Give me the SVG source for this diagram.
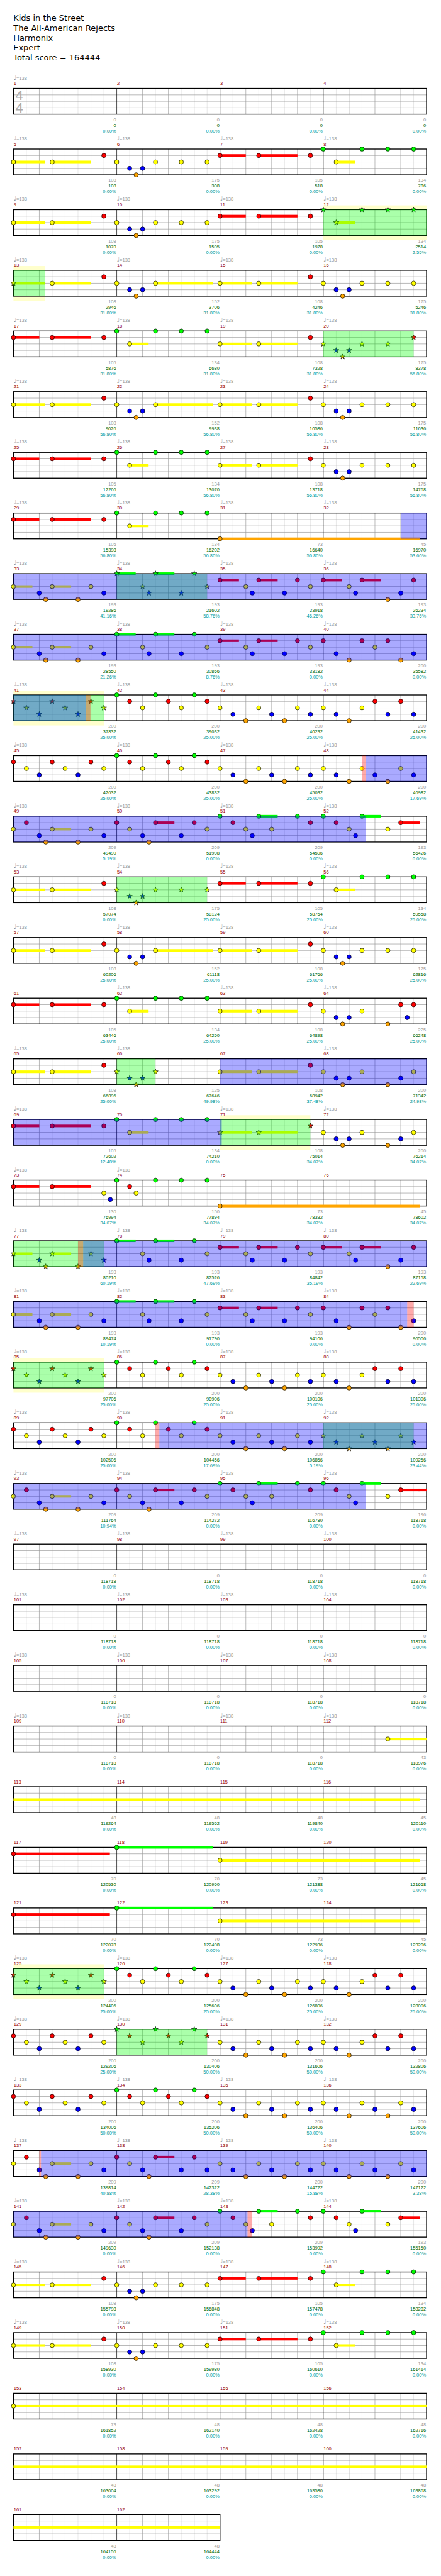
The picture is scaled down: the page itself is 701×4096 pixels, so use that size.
<svg xmlns="http://www.w3.org/2000/svg" xmlns:xlink="http://www.w3.org/1999/xlink" width="701" height="4096" viewBox="0 0 701 4096">
<style>
text{font-family:"Liberation Sans",Arial,sans-serif}
.t{font-family:"DejaVu Sans",sans-serif;font-size:19px;fill:#000}
.mn{font-size:11px;fill:#900}
.tp{font-size:11px;fill:#999}
.qn{font-family:"DejaVu Sans",sans-serif;font-size:14px}
.s1,.s2,.s3{font-size:11px;text-anchor:end}
.s1{fill:#999}.s2{fill:#060}.s3{fill:#099}
.ts{font-size:32px;fill:#aaa}
.l1{stroke:#ddd;fill:none}.l2{stroke:#999;fill:none}.l3{stroke:#000;fill:none}.bd{fill:none;stroke:#000;stroke-width:2}
circle,.st{stroke:#000;stroke-width:1}
.G{fill:#0f0}.R{fill:#f00}.Y{fill:#ff0}.B{fill:#00f}.O{fill:#ffa500}
.bn{fill:#ffc}
.ga{fill:#0f0;fill-opacity:.333}.ra{fill:#f00;fill-opacity:.333}.ba{fill:#00f;fill-opacity:.333}
</style>
<defs>
<g id="g4">
<rect width="960" height="60" fill="#fff"/>
<path class="l1" d="M30 0v60M90 0v60M150 0v60M210 0v60M270 0v60M330 0v60M390 0v60M450 0v60M510 0v60M570 0v60M630 0v60M690 0v60M750 0v60M810 0v60M870 0v60M930 0v60"/>
<path class="l2" d="M0 15h960M0 30h960M0 45h960M60 0v60M120 0v60M180 0v60M300 0v60M360 0v60M420 0v60M540 0v60M600 0v60M660 0v60M780 0v60M840 0v60M900 0v60"/>
<path class="l3" d="M240 0v60M480 0v60M720 0v60"/>
<rect class="bd" width="960" height="60"/>
</g>
<g id="g2">
<rect width="480" height="60" fill="#fff"/>
<path class="l1" d="M30 0v60M90 0v60M150 0v60M210 0v60M270 0v60M330 0v60M390 0v60M450 0v60"/>
<path class="l2" d="M0 15h480M0 30h480M0 45h480M60 0v60M120 0v60M180 0v60M300 0v60M360 0v60M420 0v60"/>
<path class="l3" d="M240 0v60"/>
<rect class="bd" width="480" height="60"/>
</g>
<circle id="G" r="5" class="G"/>
<circle id="R" cy="15" r="5" class="R"/>
<circle id="Y" cy="30" r="5" class="Y"/>
<circle id="B" cy="45" r="5" class="B"/>
<circle id="O" cy="60" r="5" class="O"/>
<path id="s" class="st" d="M0-6.5L1.53-2.1 6.18-2.01 2.47.8 3.82 5.26 0 2.6-3.82 5.26-2.47.8-6.18-2.01-1.53-2.1Z"/>
<use id="g" href="#s" class="G"/>
<use id="r" href="#s" y="15" class="R"/>
<use id="y" href="#s" y="30" class="Y"/>
<use id="b" href="#s" y="45" class="B"/>
<use id="o" href="#s" y="60" class="O"/>
<g id="P1"><rect y="27" width="74" height="6" class="Y"/><rect x="90" y="27" width="90" height="6" class="Y"/><use href="#Y"/><use href="#Y" x="90"/><use href="#R" x="210"/></g>
<g id="P1s"><rect y="27" width="74" height="6" class="Y"/><rect x="90" y="27" width="90" height="6" class="Y"/><use href="#y"/><use href="#y" x="90"/><use href="#r" x="210"/></g>
<g id="P2"><use href="#Y"/><use href="#B" x="30"/><use href="#O" x="45"/><use href="#B" x="60"/><use href="#Y" x="90"/><use href="#Y" x="150"/><use href="#Y" x="210"/></g>
<g id="P2s"><use href="#y"/><use href="#b" x="30"/><use href="#o" x="45"/><use href="#b" x="60"/><use href="#y" x="90"/><use href="#y" x="150"/><use href="#y" x="210"/></g>
<g id="P3"><rect y="12" width="60" height="6" class="R"/><rect x="90" y="12" width="90" height="6" class="R"/><use href="#R"/><use href="#R" x="90"/><use href="#R" x="210"/></g>
<g id="P4"><rect x="30" y="27" width="44" height="6" class="Y"/><use href="#G"/><use href="#Y" x="30"/><use href="#G" x="90"/><use href="#G" x="150"/><use href="#G" x="210"/></g>
<g id="P4s"><rect x="30" y="27" width="44" height="6" class="Y"/><use href="#g"/><use href="#y" x="30"/><use href="#g" x="90"/><use href="#g" x="150"/><use href="#g" x="210"/></g>
<g id="P5"><rect x="90" y="27" width="134" height="6" class="Y"/><use href="#Y"/><use href="#B" x="30"/><use href="#O" x="45"/><use href="#B" x="60"/><use href="#Y" x="90"/></g>
<g id="P7"><use href="#Y"/><use href="#B" x="30"/><use href="#O" x="45"/><use href="#B" x="60"/><use href="#Y" x="90"/><use href="#O" x="150"/><use href="#B" x="180"/><use href="#Y" x="210"/></g>
<g id="Q1"><rect y="27" width="44" height="6" class="Y"/><rect x="90" y="27" width="44" height="6" class="Y"/><use href="#Y"/><use href="#B" x="60"/><use href="#O" x="75"/><use href="#Y" x="90"/><use href="#O" x="150"/><use href="#Y" x="180"/><use href="#B" x="210"/></g>
<g id="Q1s"><rect y="27" width="44" height="6" class="Y"/><rect x="90" y="27" width="44" height="6" class="Y"/><use href="#y"/><use href="#b" x="60"/><use href="#o" x="75"/><use href="#y" x="90"/><use href="#o" x="150"/><use href="#y" x="180"/><use href="#b" x="210"/></g>
<g id="Q2"><rect y="-3" width="44" height="6" class="G"/><rect x="90" y="-3" width="44" height="6" class="G"/><use href="#G"/><use href="#Y" x="60"/><use href="#B" x="75"/><use href="#G" x="90"/><use href="#B" x="150"/><use href="#G" x="180"/><use href="#Y" x="210"/></g>
<g id="Q2s"><rect y="-3" width="44" height="6" class="G"/><rect x="90" y="-3" width="44" height="6" class="G"/><use href="#g"/><use href="#y" x="60"/><use href="#b" x="75"/><use href="#g" x="90"/><use href="#b" x="150"/><use href="#g" x="180"/><use href="#y" x="210"/></g>
<g id="Q3"><rect y="12" width="44" height="6" class="R"/><rect x="90" y="12" width="44" height="6" class="R"/><use href="#R"/><use href="#Y" x="60"/><use href="#B" x="75"/><use href="#R" x="90"/><use href="#B" x="150"/><use href="#R" x="180"/><use href="#Y" x="210"/></g>
<g id="Q4"><rect y="12" width="44" height="6" class="R"/><rect x="90" y="12" width="44" height="6" class="R"/><use href="#R"/><use href="#Y" x="60"/><use href="#B" x="75"/><use href="#R" x="90"/><use href="#O" x="150"/><use href="#B" x="180"/><use href="#R" x="210"/></g>
<g id="Q5"><use href="#R"/><use href="#B" x="30"/><use href="#O" x="60"/><use href="#R" x="90"/><use href="#Y" x="120"/><use href="#R" x="150"/><use href="#O" x="180"/><use href="#B" x="210"/></g>
<g id="S1"><use href="#R"/><use href="#Y" x="30"/><use href="#B" x="60"/><use href="#R" x="90"/><use href="#Y" x="120"/><use href="#B" x="150"/><use href="#R" x="180"/><use href="#Y" x="210"/></g>
<g id="S1s"><use href="#r"/><use href="#y" x="30"/><use href="#b" x="60"/><use href="#r" x="90"/><use href="#y" x="120"/><use href="#b" x="150"/><use href="#r" x="180"/><use href="#y" x="210"/></g>
<g id="S2"><use href="#G"/><use href="#R" x="30"/><use href="#Y" x="60"/><use href="#G" x="90"/><use href="#R" x="120"/><use href="#Y" x="150"/><use href="#G" x="180"/><use href="#R" x="210"/></g>
<g id="S2s"><use href="#g"/><use href="#r" x="30"/><use href="#y" x="60"/><use href="#g" x="90"/><use href="#r" x="120"/><use href="#y" x="150"/><use href="#g" x="180"/><use href="#r" x="210"/></g>
<g id="S3"><use href="#Y"/><use href="#B" x="30"/><use href="#O" x="60"/><use href="#Y" x="90"/><use href="#B" x="120"/><use href="#O" x="150"/><use href="#Y" x="180"/><use href="#B" x="210"/></g>
<g id="S3s"><use href="#y"/><use href="#b" x="30"/><use href="#o" x="60"/><use href="#y" x="90"/><use href="#b" x="120"/><use href="#o" x="150"/><use href="#y" x="180"/><use href="#b" x="210"/></g>
<g id="S4"><use href="#Y"/><use href="#B" x="30"/><use href="#O" x="60"/><use href="#Y" x="90"/><use href="#R" x="120"/><use href="#B" x="150"/><use href="#R" x="180"/><use href="#B" x="210"/></g>
<g id="T1"><rect x="90" y="27" width="44" height="6" class="Y"/><use href="#Y"/><use href="#R" x="30"/><use href="#B" x="60"/><use href="#O" x="75"/><use href="#Y" x="90"/><use href="#O" x="150"/><use href="#Y" x="180"/><use href="#B" x="210"/></g>
<g id="T2"><rect x="90" y="12" width="44" height="6" class="R"/><use href="#R"/><use href="#Y" x="30"/><use href="#B" x="60"/><use href="#O" x="75"/><use href="#R" x="90"/><use href="#B" x="150"/><use href="#R" x="180"/><use href="#Y" x="210"/></g>
<g id="T3"><rect x="90" y="-3" width="44" height="6" class="G"/><use href="#G"/><use href="#R" x="30"/><use href="#Y" x="60"/><use href="#B" x="75"/><use href="#G" x="90"/><use href="#Y" x="120"/><use href="#G" x="180"/><use href="#R" x="210"/></g>
<g id="T4"><rect x="90" y="-3" width="44" height="6" class="G"/><rect x="180" y="12" width="44" height="6" class="R"/><use href="#G"/><use href="#R" x="30"/><use href="#Y" x="60"/><use href="#B" x="75"/><use href="#G" x="90"/><use href="#Y" x="150"/><use href="#R" x="180"/></g>
</defs>
<rect width="701" height="4096" fill="#fff"/>
<g transform="scale(0.684)">
<g id="title">
<text class="t" x="31" y="48.5">Kids in the Street</text>
<text class="t" x="31" y="71.5">The All-American Rejects</text>
<text class="t" x="31" y="94.5">Harmonix</text>
<text class="t" x="31" y="117.5">Expert</text>
<text class="t" x="31" y="140.5">Total score = 164444</text>
</g>

<g id="row0" transform="translate(31.3 205.5)">
<use href="#g4"/>
<text class="ts" x="4.5" y="27.5">4</text><text class="ts" x="4.5" y="56.5">4</text>
<text class="mn" y="-8"><tspan x="0.5">1</tspan><tspan x="240.5">2</tspan><tspan x="480.5">3</tspan><tspan x="720.5">4</tspan></text>
<text class="tp" y="-20.5"><tspan x="0" class="qn">♩</tspan>=138</text>
<text class="s1" y="76.5"><tspan x="238.7">0</tspan><tspan x="478.7">0</tspan><tspan x="718.7">0</tspan><tspan x="958.7">0</tspan></text>
<text class="s2" y="89.7"><tspan x="238.7">0</tspan><tspan x="478.7">0</tspan><tspan x="718.7">0</tspan><tspan x="958.7">0</tspan></text>
<text class="s3" y="102.8"><tspan x="238.7">0.00%</tspan><tspan x="478.7">0.00%</tspan><tspan x="718.7">0.00%</tspan><tspan x="958.7">0.00%</tspan></text>
</g>

<g id="row1" transform="translate(31.3 346.5)">
<use href="#g4"/>
<use href="#P1"/><use href="#P2" x="240"/><use href="#P3" x="480"/><use href="#P4" x="720"/>
<text class="mn" y="-8"><tspan x="0.5">5</tspan><tspan x="240.5">6</tspan><tspan x="480.5">7</tspan><tspan x="720.5">8</tspan></text>
<text class="tp" y="-20.5"><tspan x="0" class="qn">♩</tspan>=138<tspan x="240" class="qn">♩</tspan>=138<tspan x="480" class="qn">♩</tspan>=138<tspan x="720" class="qn">♩</tspan>=138</text>
<text class="s1" y="76.5"><tspan x="238.7">108</tspan><tspan x="478.7">175</tspan><tspan x="718.7">105</tspan><tspan x="958.7">134</tspan></text>
<text class="s2" y="89.7"><tspan x="238.7">108</tspan><tspan x="478.7">308</tspan><tspan x="718.7">518</tspan><tspan x="958.7">786</tspan></text>
<text class="s3" y="102.8"><tspan x="238.7">0.00%</tspan><tspan x="478.7">0.00%</tspan><tspan x="718.7">0.00%</tspan><tspan x="958.7">0.00%</tspan></text>
</g>

<g id="row2" transform="translate(31.3 487.5)">
<rect class="bn" x="720" y="-10" width="240" height="81"/>
<use href="#g4"/>
<use href="#P1"/><use href="#P2" x="240"/><use href="#P3" x="480"/><use href="#P4s" x="720"/>
<rect class="ga" x="720" width="240" height="60"/>
<text class="mn" y="-8"><tspan x="0.5">9</tspan><tspan x="240.5">10</tspan><tspan x="480.5">11</tspan><tspan x="720.5">12</tspan></text>
<text class="tp" y="-20.5"><tspan x="0" class="qn">♩</tspan>=138<tspan x="240" class="qn">♩</tspan>=138<tspan x="480" class="qn">♩</tspan>=138<tspan x="720" class="qn">♩</tspan>=138</text>
<text class="s1" y="76.5"><tspan x="238.7">108</tspan><tspan x="478.7">175</tspan><tspan x="718.7">105</tspan><tspan x="958.7">134</tspan></text>
<text class="s2" y="89.7"><tspan x="238.7">1070</tspan><tspan x="478.7">1595</tspan><tspan x="718.7">1978</tspan><tspan x="958.7">2514</tspan></text>
<text class="s3" y="102.8"><tspan x="238.7">0.00%</tspan><tspan x="478.7">0.00%</tspan><tspan x="718.7">0.00%</tspan><tspan x="958.7">2.55%</tspan></text>
</g>

<g id="row3" transform="translate(31.3 628.5)">
<rect class="bn" x="0" y="-10" width="74" height="81"/>
<use href="#g4"/>
<rect y="27" width="74" height="6" class="Y"/><rect x="90" y="27" width="90" height="6" class="Y"/><use href="#y"/><use href="#Y" x="90"/><use href="#R" x="210"/>
<use href="#P5" x="240"/><use href="#P1" x="480"/><use href="#P2" x="720"/>
<rect class="ga" width="74" height="60"/>
<text class="mn" y="-8"><tspan x="0.5">13</tspan><tspan x="240.5">14</tspan><tspan x="480.5">15</tspan><tspan x="720.5">16</tspan></text>
<text class="tp" y="-20.5"><tspan x="0" class="qn">♩</tspan>=138<tspan x="240" class="qn">♩</tspan>=138<tspan x="480" class="qn">♩</tspan>=138<tspan x="720" class="qn">♩</tspan>=138</text>
<text class="s1" y="76.5"><tspan x="238.7">108</tspan><tspan x="478.7">152</tspan><tspan x="718.7">108</tspan><tspan x="958.7">175</tspan></text>
<text class="s2" y="89.7"><tspan x="238.7">2946</tspan><tspan x="478.7">3706</tspan><tspan x="718.7">4246</tspan><tspan x="958.7">5246</tspan></text>
<text class="s3" y="102.8"><tspan x="238.7">31.80%</tspan><tspan x="478.7">31.80%</tspan><tspan x="718.7">31.80%</tspan><tspan x="958.7">31.80%</tspan></text>
</g>

<g id="row4" transform="translate(31.3 769.5)">
<use href="#g4"/>
<use href="#P3"/><use href="#P4" x="240"/><use href="#P1" x="480"/>
<use href="#y" x="720"/><use href="#b" x="750"/><use href="#o" x="765"/><use href="#b" x="780"/><use href="#y" x="810"/><use href="#y" x="870"/><use href="#r" x="930"/>
<rect class="ga" x="720" width="210" height="60"/>
<text class="mn" y="-8"><tspan x="0.5">17</tspan><tspan x="240.5">18</tspan><tspan x="480.5">19</tspan><tspan x="720.5">20</tspan></text>
<text class="tp" y="-20.5"><tspan x="0" class="qn">♩</tspan>=138<tspan x="240" class="qn">♩</tspan>=138<tspan x="480" class="qn">♩</tspan>=138<tspan x="720" class="qn">♩</tspan>=138</text>
<text class="s1" y="76.5"><tspan x="238.7">105</tspan><tspan x="478.7">134</tspan><tspan x="718.7">108</tspan><tspan x="958.7">175</tspan></text>
<text class="s2" y="89.7"><tspan x="238.7">5876</tspan><tspan x="478.7">6680</tspan><tspan x="718.7">7328</tspan><tspan x="958.7">8378</tspan></text>
<text class="s3" y="102.8"><tspan x="238.7">31.80%</tspan><tspan x="478.7">31.80%</tspan><tspan x="718.7">31.80%</tspan><tspan x="958.7">56.80%</tspan></text>
</g>

<g id="row5" transform="translate(31.3 910.5)">
<use href="#g4"/>
<use href="#P1"/><use href="#P5" x="240"/><use href="#P1" x="480"/><use href="#P2" x="720"/>
<text class="mn" y="-8"><tspan x="0.5">21</tspan><tspan x="240.5">22</tspan><tspan x="480.5">23</tspan><tspan x="720.5">24</tspan></text>
<text class="tp" y="-20.5"><tspan x="0" class="qn">♩</tspan>=138<tspan x="240" class="qn">♩</tspan>=138<tspan x="480" class="qn">♩</tspan>=138<tspan x="720" class="qn">♩</tspan>=138</text>
<text class="s1" y="76.5"><tspan x="238.7">108</tspan><tspan x="478.7">152</tspan><tspan x="718.7">108</tspan><tspan x="958.7">175</tspan></text>
<text class="s2" y="89.7"><tspan x="238.7">9026</tspan><tspan x="478.7">9938</tspan><tspan x="718.7">10586</tspan><tspan x="958.7">11636</tspan></text>
<text class="s3" y="102.8"><tspan x="238.7">56.80%</tspan><tspan x="478.7">56.80%</tspan><tspan x="718.7">56.80%</tspan><tspan x="958.7">56.80%</tspan></text>
</g>

<g id="row6" transform="translate(31.3 1051.5)">
<use href="#g4"/>
<use href="#P3"/><use href="#P4" x="240"/><use href="#P1" x="480"/><use href="#P2" x="720"/>
<text class="mn" y="-8"><tspan x="0.5">25</tspan><tspan x="240.5">26</tspan><tspan x="480.5">27</tspan><tspan x="720.5">28</tspan></text>
<text class="tp" y="-20.5"><tspan x="0" class="qn">♩</tspan>=138<tspan x="240" class="qn">♩</tspan>=138<tspan x="480" class="qn">♩</tspan>=138<tspan x="720" class="qn">♩</tspan>=138</text>
<text class="s1" y="76.5"><tspan x="238.7">105</tspan><tspan x="478.7">134</tspan><tspan x="718.7">108</tspan><tspan x="958.7">175</tspan></text>
<text class="s2" y="89.7"><tspan x="238.7">12266</tspan><tspan x="478.7">13070</tspan><tspan x="718.7">13718</tspan><tspan x="958.7">14768</tspan></text>
<text class="s3" y="102.8"><tspan x="238.7">56.80%</tspan><tspan x="478.7">56.80%</tspan><tspan x="718.7">56.80%</tspan><tspan x="958.7">56.80%</tspan></text>
</g>

<g id="row7" transform="translate(31.3 1192.5)">
<use href="#g4"/>
<use href="#P3"/><use href="#P4" x="240"/>
<rect x="480" y="57" width="464" height="6" class="O"/><use href="#O" x="480"/>
<rect class="ba" x="900" width="60" height="60"/>
<text class="mn" y="-8"><tspan x="0.5">29</tspan><tspan x="240.5">30</tspan><tspan x="480.5">31</tspan><tspan x="720.5">32</tspan></text>
<text class="tp" y="-20.5"><tspan x="0" class="qn">♩</tspan>=138<tspan x="240" class="qn">♩</tspan>=138<tspan x="480" class="qn">♩</tspan>=138<tspan x="720" class="qn">♩</tspan>=138</text>
<text class="s1" y="76.5"><tspan x="238.7">105</tspan><tspan x="478.7">134</tspan><tspan x="718.7">73</tspan><tspan x="958.7">45</tspan></text>
<text class="s2" y="89.7"><tspan x="238.7">15398</tspan><tspan x="478.7">16202</tspan><tspan x="718.7">16640</tspan><tspan x="958.7">16970</tspan></text>
<text class="s3" y="102.8"><tspan x="238.7">56.80%</tspan><tspan x="478.7">56.80%</tspan><tspan x="718.7">56.80%</tspan><tspan x="958.7">53.66%</tspan></text>
</g>

<g id="row8" transform="translate(31.3 1333.5)">
<use href="#g4"/>
<use href="#Q1"/><use href="#Q2s" x="240"/><use href="#Q3" x="480"/><use href="#Q4" x="720"/>
<rect class="ga" x="240" width="210" height="60"/><rect class="ba" width="960" height="60"/>
<text class="mn" y="-8"><tspan x="0.5">33</tspan><tspan x="240.5">34</tspan><tspan x="480.5">35</tspan><tspan x="720.5">36</tspan></text>
<text class="tp" y="-20.5"><tspan x="0" class="qn">♩</tspan>=138<tspan x="240" class="qn">♩</tspan>=138<tspan x="480" class="qn">♩</tspan>=138<tspan x="720" class="qn">♩</tspan>=138</text>
<text class="s1" y="76.5"><tspan x="238.7">193</tspan><tspan x="478.7">193</tspan><tspan x="718.7">193</tspan><tspan x="958.7">193</tspan></text>
<text class="s2" y="89.7"><tspan x="238.7">19286</tspan><tspan x="478.7">21602</tspan><tspan x="718.7">23918</tspan><tspan x="958.7">26234</tspan></text>
<text class="s3" y="102.8"><tspan x="238.7">41.16%</tspan><tspan x="478.7">58.76%</tspan><tspan x="718.7">46.26%</tspan><tspan x="958.7">33.76%</tspan></text>
</g>

<g id="row9" transform="translate(31.3 1474.5)">
<use href="#g4"/>
<use href="#Q1"/><use href="#Q2" x="240"/><use href="#Q3" x="480"/><use href="#Q5" x="720"/>
<rect class="ba" width="960" height="60"/>
<text class="mn" y="-8"><tspan x="0.5">37</tspan><tspan x="240.5">38</tspan><tspan x="480.5">39</tspan><tspan x="720.5">40</tspan></text>
<text class="tp" y="-20.5"><tspan x="0" class="qn">♩</tspan>=138<tspan x="240" class="qn">♩</tspan>=138<tspan x="480" class="qn">♩</tspan>=138<tspan x="720" class="qn">♩</tspan>=138</text>
<text class="s1" y="76.5"><tspan x="238.7">193</tspan><tspan x="478.7">193</tspan><tspan x="718.7">193</tspan><tspan x="958.7">200</tspan></text>
<text class="s2" y="89.7"><tspan x="238.7">28550</tspan><tspan x="478.7">30866</tspan><tspan x="718.7">33182</tspan><tspan x="958.7">35582</tspan></text>
<text class="s3" y="102.8"><tspan x="238.7">21.26%</tspan><tspan x="478.7">8.76%</tspan><tspan x="718.7">0.00%</tspan><tspan x="958.7">0.00%</tspan></text>
</g>

<g id="row10" transform="translate(31.3 1615.5)">
<rect class="bn" x="0" y="-10" width="210" height="81"/>
<use href="#g4"/>
<use href="#S1s"/><use href="#S2" x="240"/><use href="#S3" x="480"/><use href="#S4" x="720"/>
<rect class="ga" width="210" height="60"/><rect class="ra" x="168" width="11" height="60"/><rect class="ba" width="168" height="60"/>
<text class="mn" y="-8"><tspan x="0.5">41</tspan><tspan x="240.5">42</tspan><tspan x="480.5">43</tspan><tspan x="720.5">44</tspan></text>
<text class="tp" y="-20.5"><tspan x="0" class="qn">♩</tspan>=138<tspan x="240" class="qn">♩</tspan>=138<tspan x="480" class="qn">♩</tspan>=138<tspan x="720" class="qn">♩</tspan>=138</text>
<text class="s1" y="76.5"><tspan x="238.7">200</tspan><tspan x="478.7">200</tspan><tspan x="718.7">200</tspan><tspan x="958.7">200</tspan></text>
<text class="s2" y="89.7"><tspan x="238.7">37832</tspan><tspan x="478.7">39032</tspan><tspan x="718.7">40232</tspan><tspan x="958.7">41432</tspan></text>
<text class="s3" y="102.8"><tspan x="238.7">25.00%</tspan><tspan x="478.7">25.00%</tspan><tspan x="718.7">25.00%</tspan><tspan x="958.7">25.00%</tspan></text>
</g>

<g id="row11" transform="translate(31.3 1756.5)">
<use href="#g4"/>
<use href="#S1"/><use href="#S2" x="240"/><use href="#S3" x="480"/><use href="#S3" x="720"/>
<rect class="ra" x="810" width="9" height="60"/><rect class="ba" x="819" width="141" height="60"/>
<text class="mn" y="-8"><tspan x="0.5">45</tspan><tspan x="240.5">46</tspan><tspan x="480.5">47</tspan><tspan x="720.5">48</tspan></text>
<text class="tp" y="-20.5"><tspan x="0" class="qn">♩</tspan>=138<tspan x="240" class="qn">♩</tspan>=138<tspan x="480" class="qn">♩</tspan>=138<tspan x="720" class="qn">♩</tspan>=138</text>
<text class="s1" y="76.5"><tspan x="238.7">200</tspan><tspan x="478.7">200</tspan><tspan x="718.7">200</tspan><tspan x="958.7">200</tspan></text>
<text class="s2" y="89.7"><tspan x="238.7">42632</tspan><tspan x="478.7">43832</tspan><tspan x="718.7">45032</tspan><tspan x="958.7">46982</tspan></text>
<text class="s3" y="102.8"><tspan x="238.7">25.00%</tspan><tspan x="478.7">25.00%</tspan><tspan x="718.7">25.00%</tspan><tspan x="958.7">17.69%</tspan></text>
</g>

<g id="row12" transform="translate(31.3 1897.5)">
<use href="#g4"/>
<use href="#T1"/><use href="#T2" x="240"/><use href="#T3" x="480"/><use href="#T4" x="720"/>
<rect class="ba" width="819" height="60"/>
<text class="mn" y="-8"><tspan x="0.5">49</tspan><tspan x="240.5">50</tspan><tspan x="480.5">51</tspan><tspan x="720.5">52</tspan></text>
<text class="tp" y="-20.5"><tspan x="0" class="qn">♩</tspan>=138<tspan x="240" class="qn">♩</tspan>=138<tspan x="480" class="qn">♩</tspan>=138<tspan x="720" class="qn">♩</tspan>=138</text>
<text class="s1" y="76.5"><tspan x="238.7">209</tspan><tspan x="478.7">209</tspan><tspan x="718.7">209</tspan><tspan x="958.7">193</tspan></text>
<text class="s2" y="89.7"><tspan x="238.7">49490</tspan><tspan x="478.7">51998</tspan><tspan x="718.7">54506</tspan><tspan x="958.7">56426</tspan></text>
<text class="s3" y="102.8"><tspan x="238.7">5.19%</tspan><tspan x="478.7">0.00%</tspan><tspan x="718.7">0.00%</tspan><tspan x="958.7">0.00%</tspan></text>
</g>

<g id="row13" transform="translate(31.3 2038.5)">
<use href="#g4"/>
<use href="#P1"/><use href="#P2s" x="240"/><use href="#P3" x="480"/><use href="#P4" x="720"/>
<rect class="ga" x="240" width="210" height="60"/>
<text class="mn" y="-8"><tspan x="0.5">53</tspan><tspan x="240.5">54</tspan><tspan x="480.5">55</tspan><tspan x="720.5">56</tspan></text>
<text class="tp" y="-20.5"><tspan x="0" class="qn">♩</tspan>=138<tspan x="240" class="qn">♩</tspan>=138<tspan x="480" class="qn">♩</tspan>=138<tspan x="720" class="qn">♩</tspan>=138</text>
<text class="s1" y="76.5"><tspan x="238.7">108</tspan><tspan x="478.7">175</tspan><tspan x="718.7">105</tspan><tspan x="958.7">134</tspan></text>
<text class="s2" y="89.7"><tspan x="238.7">57074</tspan><tspan x="478.7">58124</tspan><tspan x="718.7">58754</tspan><tspan x="958.7">59558</tspan></text>
<text class="s3" y="102.8"><tspan x="238.7">0.00%</tspan><tspan x="478.7">25.00%</tspan><tspan x="718.7">25.00%</tspan><tspan x="958.7">25.00%</tspan></text>
</g>

<g id="row14" transform="translate(31.3 2179.5)">
<use href="#g4"/>
<use href="#P1"/><use href="#P5" x="240"/><use href="#P1" x="480"/><use href="#P2" x="720"/>
<text class="mn" y="-8"><tspan x="0.5">57</tspan><tspan x="240.5">58</tspan><tspan x="480.5">59</tspan><tspan x="720.5">60</tspan></text>
<text class="tp" y="-20.5"><tspan x="0" class="qn">♩</tspan>=138<tspan x="240" class="qn">♩</tspan>=138<tspan x="480" class="qn">♩</tspan>=138<tspan x="720" class="qn">♩</tspan>=138</text>
<text class="s1" y="76.5"><tspan x="238.7">108</tspan><tspan x="478.7">152</tspan><tspan x="718.7">108</tspan><tspan x="958.7">175</tspan></text>
<text class="s2" y="89.7"><tspan x="238.7">60206</tspan><tspan x="478.7">61118</tspan><tspan x="718.7">61766</tspan><tspan x="958.7">62816</tspan></text>
<text class="s3" y="102.8"><tspan x="238.7">25.00%</tspan><tspan x="478.7">25.00%</tspan><tspan x="718.7">25.00%</tspan><tspan x="958.7">25.00%</tspan></text>
</g>

<g id="row15" transform="translate(31.3 2320.5)">
<use href="#g4"/>
<use href="#P3"/><use href="#P4" x="240"/><use href="#P1" x="480"/>
<use href="#Y" x="720"/><use href="#B" x="750"/><use href="#O" x="765"/><use href="#B" x="780"/><use href="#Y" x="810"/><use href="#O" x="870"/><use href="#R" x="900"/><use href="#B" x="915"/><use href="#R" x="930"/>
<text class="mn" y="-8"><tspan x="0.5">61</tspan><tspan x="240.5">62</tspan><tspan x="480.5">63</tspan><tspan x="720.5">64</tspan></text>
<text class="tp" y="-20.5"><tspan x="240" class="qn">♩</tspan>=138<tspan x="480" class="qn">♩</tspan>=138<tspan x="720" class="qn">♩</tspan>=138</text>
<text class="s1" y="76.5"><tspan x="238.7">105</tspan><tspan x="478.7">134</tspan><tspan x="718.7">108</tspan><tspan x="958.7">225</tspan></text>
<text class="s2" y="89.7"><tspan x="238.7">63446</tspan><tspan x="478.7">64250</tspan><tspan x="718.7">64898</tspan><tspan x="958.7">66248</tspan></text>
<text class="s3" y="102.8"><tspan x="238.7">25.00%</tspan><tspan x="478.7">25.00%</tspan><tspan x="718.7">25.00%</tspan><tspan x="958.7">25.00%</tspan></text>
</g>

<g id="row16" transform="translate(31.3 2461.5)">
<use href="#g4"/>
<use href="#P1"/>
<use href="#y" x="240"/><use href="#b" x="270"/><use href="#o" x="285"/><use href="#b" x="300"/><use href="#y" x="330"/>
<use href="#P1" x="480"/><use href="#P7" x="720"/>
<rect class="ga" x="240" width="90" height="60"/><rect class="ba" x="480" width="480" height="60"/>
<text class="mn" y="-8"><tspan x="0.5">65</tspan><tspan x="240.5">66</tspan><tspan x="480.5">67</tspan><tspan x="720.5">68</tspan></text>
<text class="tp" y="-20.5"><tspan x="0" class="qn">♩</tspan>=138<tspan x="240" class="qn">♩</tspan>=138<tspan x="720" class="qn">♩</tspan>=138</text>
<text class="s1" y="76.5"><tspan x="238.7">108</tspan><tspan x="478.7">125</tspan><tspan x="718.7">108</tspan><tspan x="958.7">200</tspan></text>
<text class="s2" y="89.7"><tspan x="238.7">66896</tspan><tspan x="478.7">67646</tspan><tspan x="718.7">68942</tspan><tspan x="958.7">71342</tspan></text>
<text class="s3" y="102.8"><tspan x="238.7">25.00%</tspan><tspan x="478.7">49.98%</tspan><tspan x="718.7">37.48%</tspan><tspan x="958.7">24.98%</tspan></text>
</g>

<g id="row17" transform="translate(31.3 2602.5)">
<rect class="bn" x="480" y="-10" width="210" height="81"/>
<use href="#g4"/>
<use href="#P3"/><use href="#P4" x="240"/><use href="#P1s" x="480"/><use href="#P7" x="720"/>
<rect class="ga" x="480" width="210" height="60"/><rect class="ba" width="484" height="60"/>
<text class="mn" y="-8"><tspan x="0.5">69</tspan><tspan x="240.5">70</tspan><tspan x="480.5">71</tspan><tspan x="720.5">72</tspan></text>
<text class="tp" y="-20.5"><tspan x="0" class="qn">♩</tspan>=138<tspan x="480" class="qn">♩</tspan>=138<tspan x="720" class="qn">♩</tspan>=138</text>
<text class="s1" y="76.5"><tspan x="238.7">105</tspan><tspan x="478.7">134</tspan><tspan x="718.7">108</tspan><tspan x="958.7">200</tspan></text>
<text class="s2" y="89.7"><tspan x="238.7">72602</tspan><tspan x="478.7">74210</tspan><tspan x="718.7">75014</tspan><tspan x="958.7">76214</tspan></text>
<text class="s3" y="102.8"><tspan x="238.7">12.48%</tspan><tspan x="478.7">0.00%</tspan><tspan x="718.7">34.07%</tspan><tspan x="958.7">34.07%</tspan></text>
</g>

<g id="row18" transform="translate(31.3 2743.5)">
<use href="#g4"/>
<rect y="12" width="60" height="6" class="R"/><rect x="90" y="12" width="90" height="6" class="R"/><use href="#R"/><use href="#R" x="90"/><use href="#Y" x="210"/><use href="#B" x="225"/>
<use href="#G" x="240"/><use href="#R" x="270"/><use href="#Y" x="285"/><use href="#G" x="330"/><use href="#G" x="390"/><use href="#G" x="450"/>
<rect x="480" y="57" width="464" height="6" class="O"/><use href="#O" x="480"/>
<text class="mn" y="-8"><tspan x="0.5">73</tspan><tspan x="240.5">74</tspan><tspan x="480.5">75</tspan><tspan x="720.5">76</tspan></text>
<text class="tp" y="-20.5"><tspan x="0" class="qn">♩</tspan>=138<tspan x="240" class="qn">♩</tspan>=138</text>
<text class="s1" y="76.5"><tspan x="238.7">130</tspan><tspan x="478.7">150</tspan><tspan x="718.7">73</tspan><tspan x="958.7">45</tspan></text>
<text class="s2" y="89.7"><tspan x="238.7">76994</tspan><tspan x="478.7">77894</tspan><tspan x="718.7">78332</tspan><tspan x="958.7">78602</tspan></text>
<text class="s3" y="102.8"><tspan x="238.7">34.07%</tspan><tspan x="478.7">34.07%</tspan><tspan x="718.7">34.07%</tspan><tspan x="958.7">34.07%</tspan></text>
</g>

<g id="row19" transform="translate(31.3 2884.5)">
<use href="#g4"/>
<use href="#Q1s"/><use href="#Q2" x="240"/><use href="#Q3" x="480"/><use href="#Q4" x="720"/>
<rect class="ga" width="210" height="60"/><rect class="ra" x="150" width="12" height="60"/><rect class="ba" x="162" width="798" height="60"/>
<text class="mn" y="-8"><tspan x="0.5">77</tspan><tspan x="240.5">78</tspan><tspan x="480.5">79</tspan><tspan x="720.5">80</tspan></text>
<text class="tp" y="-20.5"><tspan x="0" class="qn">♩</tspan>=138<tspan x="240" class="qn">♩</tspan>=138<tspan x="480" class="qn">♩</tspan>=138<tspan x="720" class="qn">♩</tspan>=138</text>
<text class="s1" y="76.5"><tspan x="238.7">193</tspan><tspan x="478.7">193</tspan><tspan x="718.7">193</tspan><tspan x="958.7">193</tspan></text>
<text class="s2" y="89.7"><tspan x="238.7">80210</tspan><tspan x="478.7">82526</tspan><tspan x="718.7">84842</tspan><tspan x="958.7">87158</tspan></text>
<text class="s3" y="102.8"><tspan x="238.7">60.19%</tspan><tspan x="478.7">47.69%</tspan><tspan x="718.7">35.19%</tspan><tspan x="958.7">22.69%</tspan></text>
</g>

<g id="row20" transform="translate(31.3 3025.5)">
<use href="#g4"/>
<use href="#Q1"/><use href="#Q2" x="240"/><use href="#Q3" x="480"/><use href="#Q5" x="720"/>
<rect class="ba" width="915" height="60"/><rect class="ra" x="915" width="15" height="60"/>
<text class="mn" y="-8"><tspan x="0.5">81</tspan><tspan x="240.5">82</tspan><tspan x="480.5">83</tspan><tspan x="720.5">84</tspan></text>
<text class="tp" y="-20.5"><tspan x="0" class="qn">♩</tspan>=138<tspan x="240" class="qn">♩</tspan>=138<tspan x="480" class="qn">♩</tspan>=138<tspan x="720" class="qn">♩</tspan>=138</text>
<text class="s1" y="76.5"><tspan x="238.7">193</tspan><tspan x="478.7">193</tspan><tspan x="718.7">193</tspan><tspan x="958.7">200</tspan></text>
<text class="s2" y="89.7"><tspan x="238.7">89474</tspan><tspan x="478.7">91790</tspan><tspan x="718.7">94106</tspan><tspan x="958.7">96506</tspan></text>
<text class="s3" y="102.8"><tspan x="238.7">10.19%</tspan><tspan x="478.7">0.00%</tspan><tspan x="718.7">0.00%</tspan><tspan x="958.7">0.00%</tspan></text>
</g>

<g id="row21" transform="translate(31.3 3166.5)">
<rect class="bn" x="0" y="-10" width="210" height="81"/>
<use href="#g4"/>
<use href="#S1s"/><use href="#S2" x="240"/><use href="#S3" x="480"/><use href="#S4" x="720"/>
<rect class="ga" width="210" height="60"/>
<text class="mn" y="-8"><tspan x="0.5">85</tspan><tspan x="240.5">86</tspan><tspan x="480.5">87</tspan><tspan x="720.5">88</tspan></text>
<text class="tp" y="-20.5"><tspan x="0" class="qn">♩</tspan>=138<tspan x="240" class="qn">♩</tspan>=138<tspan x="480" class="qn">♩</tspan>=138<tspan x="720" class="qn">♩</tspan>=138</text>
<text class="s1" y="76.5"><tspan x="238.7">200</tspan><tspan x="478.7">200</tspan><tspan x="718.7">200</tspan><tspan x="958.7">200</tspan></text>
<text class="s2" y="89.7"><tspan x="238.7">97706</tspan><tspan x="478.7">98906</tspan><tspan x="718.7">100106</tspan><tspan x="958.7">101306</tspan></text>
<text class="s3" y="102.8"><tspan x="238.7">25.00%</tspan><tspan x="478.7">25.00%</tspan><tspan x="718.7">25.00%</tspan><tspan x="958.7">25.00%</tspan></text>
</g>

<g id="row22" transform="translate(31.3 3307.5)">
<use href="#g4"/>
<use href="#S1"/><use href="#S2" x="240"/><use href="#S3" x="480"/><use href="#S3s" x="720"/>
<rect class="ra" x="330" width="9" height="60"/><rect class="ga" x="720" width="210" height="60"/><rect class="ba" x="339" width="621" height="60"/>
<text class="mn" y="-8"><tspan x="0.5">89</tspan><tspan x="240.5">90</tspan><tspan x="480.5">91</tspan><tspan x="720.5">92</tspan></text>
<text class="tp" y="-20.5"><tspan x="0" class="qn">♩</tspan>=138<tspan x="240" class="qn">♩</tspan>=138<tspan x="480" class="qn">♩</tspan>=138<tspan x="720" class="qn">♩</tspan>=138</text>
<text class="s1" y="76.5"><tspan x="238.7">200</tspan><tspan x="478.7">200</tspan><tspan x="718.7">200</tspan><tspan x="958.7">200</tspan></text>
<text class="s2" y="89.7"><tspan x="238.7">102506</tspan><tspan x="478.7">104456</tspan><tspan x="718.7">106856</tspan><tspan x="958.7">109256</tspan></text>
<text class="s3" y="102.8"><tspan x="238.7">25.00%</tspan><tspan x="478.7">17.69%</tspan><tspan x="718.7">5.19%</tspan><tspan x="958.7">23.44%</tspan></text>
</g>

<g id="row23" transform="translate(31.3 3448.5)">
<use href="#g4"/>
<rect x="940" y="12" width="20" height="6" class="R"/>
<use href="#T1"/><use href="#T2" x="240"/><use href="#T3" x="480"/><use href="#T4" x="720"/>
<rect class="ba" width="819" height="60"/>
<text class="mn" y="-8"><tspan x="0.5">93</tspan><tspan x="240.5">94</tspan><tspan x="480.5">95</tspan><tspan x="720.5">96</tspan></text>
<text class="tp" y="-20.5"><tspan x="0" class="qn">♩</tspan>=138<tspan x="240" class="qn">♩</tspan>=138<tspan x="480" class="qn">♩</tspan>=138<tspan x="720" class="qn">♩</tspan>=138</text>
<text class="s1" y="76.5"><tspan x="238.7">209</tspan><tspan x="478.7">209</tspan><tspan x="718.7">209</tspan><tspan x="958.7">196</tspan></text>
<text class="s2" y="89.7"><tspan x="238.7">111764</tspan><tspan x="478.7">114272</tspan><tspan x="718.7">116780</tspan><tspan x="958.7">118718</tspan></text>
<text class="s3" y="102.8"><tspan x="238.7">10.94%</tspan><tspan x="478.7">0.00%</tspan><tspan x="718.7">0.00%</tspan><tspan x="958.7">0.00%</tspan></text>
</g>

<g id="row24" transform="translate(31.3 3589.5)">
<use href="#g4"/>
<text class="mn" y="-8"><tspan x="0.5">97</tspan><tspan x="240.5">98</tspan><tspan x="480.5">99</tspan><tspan x="720.5">100</tspan></text>
<text class="tp" y="-20.5"><tspan x="0" class="qn">♩</tspan>=138<tspan x="240" class="qn">♩</tspan>=138<tspan x="480" class="qn">♩</tspan>=138<tspan x="720" class="qn">♩</tspan>=138</text>
<text class="s1" y="76.5"><tspan x="238.7">0</tspan><tspan x="478.7">0</tspan><tspan x="718.7">0</tspan><tspan x="958.7">0</tspan></text>
<text class="s2" y="89.7"><tspan x="238.7">118718</tspan><tspan x="478.7">118718</tspan><tspan x="718.7">118718</tspan><tspan x="958.7">118718</tspan></text>
<text class="s3" y="102.8"><tspan x="238.7">0.00%</tspan><tspan x="478.7">0.00%</tspan><tspan x="718.7">0.00%</tspan><tspan x="958.7">0.00%</tspan></text>
</g>

<g id="row25" transform="translate(31.3 3730.5)">
<use href="#g4"/>
<text class="mn" y="-8"><tspan x="0.5">101</tspan><tspan x="240.5">102</tspan><tspan x="480.5">103</tspan><tspan x="720.5">104</tspan></text>
<text class="tp" y="-20.5"><tspan x="0" class="qn">♩</tspan>=138<tspan x="240" class="qn">♩</tspan>=138<tspan x="480" class="qn">♩</tspan>=138<tspan x="720" class="qn">♩</tspan>=138</text>
<text class="s1" y="76.5"><tspan x="238.7">0</tspan><tspan x="478.7">0</tspan><tspan x="718.7">0</tspan><tspan x="958.7">0</tspan></text>
<text class="s2" y="89.7"><tspan x="238.7">118718</tspan><tspan x="478.7">118718</tspan><tspan x="718.7">118718</tspan><tspan x="958.7">118718</tspan></text>
<text class="s3" y="102.8"><tspan x="238.7">0.00%</tspan><tspan x="478.7">0.00%</tspan><tspan x="718.7">0.00%</tspan><tspan x="958.7">0.00%</tspan></text>
</g>

<g id="row26" transform="translate(31.3 3871.5)">
<use href="#g4"/>
<text class="mn" y="-8"><tspan x="0.5">105</tspan><tspan x="240.5">106</tspan><tspan x="480.5">107</tspan><tspan x="720.5">108</tspan></text>
<text class="tp" y="-20.5"><tspan x="0" class="qn">♩</tspan>=138<tspan x="240" class="qn">♩</tspan>=138<tspan x="480" class="qn">♩</tspan>=138<tspan x="720" class="qn">♩</tspan>=138</text>
<text class="s1" y="76.5"><tspan x="238.7">0</tspan><tspan x="478.7">0</tspan><tspan x="718.7">0</tspan><tspan x="958.7">0</tspan></text>
<text class="s2" y="89.7"><tspan x="238.7">118718</tspan><tspan x="478.7">118718</tspan><tspan x="718.7">118718</tspan><tspan x="958.7">118718</tspan></text>
<text class="s3" y="102.8"><tspan x="238.7">0.00%</tspan><tspan x="478.7">0.00%</tspan><tspan x="718.7">0.00%</tspan><tspan x="958.7">0.00%</tspan></text>
</g>

<g id="row27" transform="translate(31.3 4012.5)">
<use href="#g4"/>
<rect x="870" y="27" width="90" height="6" class="Y"/><use href="#Y" x="870"/>
<text class="mn" y="-8"><tspan x="0.5">109</tspan><tspan x="240.5">110</tspan><tspan x="480.5">111</tspan><tspan x="720.5">112</tspan></text>
<text class="tp" y="-20.5"><tspan x="0" class="qn">♩</tspan>=138<tspan x="240" class="qn">♩</tspan>=138<tspan x="480" class="qn">♩</tspan>=138<tspan x="720" class="qn">♩</tspan>=138</text>
<text class="s1" y="76.5"><tspan x="238.7">0</tspan><tspan x="478.7">0</tspan><tspan x="718.7">0</tspan><tspan x="958.7">43</tspan></text>
<text class="s2" y="89.7"><tspan x="238.7">118718</tspan><tspan x="478.7">118718</tspan><tspan x="718.7">118718</tspan><tspan x="958.7">118976</tspan></text>
<text class="s3" y="102.8"><tspan x="238.7">0.00%</tspan><tspan x="478.7">0.00%</tspan><tspan x="718.7">0.00%</tspan><tspan x="958.7">0.00%</tspan></text>
</g>

<g id="row28" transform="translate(31.3 4153.5)">
<use href="#g4"/>
<rect y="27" width="944" height="6" class="Y"/>
<text class="mn" y="-8"><tspan x="0.5">113</tspan><tspan x="240.5">114</tspan><tspan x="480.5">115</tspan><tspan x="720.5">116</tspan></text>
<text class="s1" y="76.5"><tspan x="238.7">48</tspan><tspan x="478.7">48</tspan><tspan x="718.7">48</tspan><tspan x="958.7">45</tspan></text>
<text class="s2" y="89.7"><tspan x="238.7">119264</tspan><tspan x="478.7">119552</tspan><tspan x="718.7">119840</tspan><tspan x="958.7">120110</tspan></text>
<text class="s3" y="102.8"><tspan x="238.7">0.00%</tspan><tspan x="478.7">0.00%</tspan><tspan x="718.7">0.00%</tspan><tspan x="958.7">0.00%</tspan></text>
</g>

<g id="row29" transform="translate(31.3 4294.5)">
<use href="#g4"/>
<rect y="12" width="224" height="6" class="R"/><rect x="240" y="-3" width="224" height="6" class="G"/><rect x="480" y="27" width="464" height="6" class="Y"/>
<use href="#R"/><use href="#G" x="240"/><use href="#Y" x="480"/>
<text class="mn" y="-8"><tspan x="0.5">117</tspan><tspan x="240.5">118</tspan><tspan x="480.5">119</tspan><tspan x="720.5">120</tspan></text>
<text class="s1" y="76.5"><tspan x="238.7">70</tspan><tspan x="478.7">70</tspan><tspan x="718.7">73</tspan><tspan x="958.7">45</tspan></text>
<text class="s2" y="89.7"><tspan x="238.7">120530</tspan><tspan x="478.7">120950</tspan><tspan x="718.7">121388</tspan><tspan x="958.7">121658</tspan></text>
<text class="s3" y="102.8"><tspan x="238.7">0.00%</tspan><tspan x="478.7">0.00%</tspan><tspan x="718.7">0.00%</tspan><tspan x="958.7">0.00%</tspan></text>
</g>

<g id="row30" transform="translate(31.3 4435.5)">
<use href="#g4"/>
<rect y="12" width="224" height="6" class="R"/><rect x="240" y="-3" width="224" height="6" class="G"/><rect x="480" y="27" width="464" height="6" class="Y"/>
<use href="#R"/><use href="#G" x="240"/><use href="#Y" x="480"/>
<text class="mn" y="-8"><tspan x="0.5">121</tspan><tspan x="240.5">122</tspan><tspan x="480.5">123</tspan><tspan x="720.5">124</tspan></text>
<text class="s1" y="76.5"><tspan x="238.7">70</tspan><tspan x="478.7">70</tspan><tspan x="718.7">73</tspan><tspan x="958.7">45</tspan></text>
<text class="s2" y="89.7"><tspan x="238.7">122078</tspan><tspan x="478.7">122498</tspan><tspan x="718.7">122936</tspan><tspan x="958.7">123206</tspan></text>
<text class="s3" y="102.8"><tspan x="238.7">0.00%</tspan><tspan x="478.7">0.00%</tspan><tspan x="718.7">0.00%</tspan><tspan x="958.7">0.00%</tspan></text>
</g>

<g id="row31" transform="translate(31.3 4576.5)">
<rect class="bn" x="0" y="-10" width="210" height="81"/>
<use href="#g4"/>
<use href="#S1s"/><use href="#S2" x="240"/><use href="#S3" x="480"/><use href="#S4" x="720"/>
<rect class="ga" width="210" height="60"/>
<text class="mn" y="-8"><tspan x="0.5">125</tspan><tspan x="240.5">126</tspan><tspan x="480.5">127</tspan><tspan x="720.5">128</tspan></text>
<text class="tp" y="-20.5"><tspan x="0" class="qn">♩</tspan>=138<tspan x="240" class="qn">♩</tspan>=138<tspan x="480" class="qn">♩</tspan>=138<tspan x="720" class="qn">♩</tspan>=138</text>
<text class="s1" y="76.5"><tspan x="238.7">200</tspan><tspan x="478.7">200</tspan><tspan x="718.7">200</tspan><tspan x="958.7">200</tspan></text>
<text class="s2" y="89.7"><tspan x="238.7">124406</tspan><tspan x="478.7">125606</tspan><tspan x="718.7">126806</tspan><tspan x="958.7">128006</tspan></text>
<text class="s3" y="102.8"><tspan x="238.7">25.00%</tspan><tspan x="478.7">25.00%</tspan><tspan x="718.7">25.00%</tspan><tspan x="958.7">25.00%</tspan></text>
</g>

<g id="row32" transform="translate(31.3 4717.5)">
<use href="#g4"/>
<use href="#S1"/><use href="#S2s" x="240"/><use href="#S3" x="480"/><use href="#S4" x="720"/>
<rect class="ga" x="240" width="210" height="60"/>
<text class="mn" y="-8"><tspan x="0.5">129</tspan><tspan x="240.5">130</tspan><tspan x="480.5">131</tspan><tspan x="720.5">132</tspan></text>
<text class="tp" y="-20.5"><tspan x="0" class="qn">♩</tspan>=138<tspan x="240" class="qn">♩</tspan>=138<tspan x="480" class="qn">♩</tspan>=138<tspan x="720" class="qn">♩</tspan>=138</text>
<text class="s1" y="76.5"><tspan x="238.7">200</tspan><tspan x="478.7">200</tspan><tspan x="718.7">200</tspan><tspan x="958.7">200</tspan></text>
<text class="s2" y="89.7"><tspan x="238.7">129206</tspan><tspan x="478.7">130406</tspan><tspan x="718.7">131606</tspan><tspan x="958.7">132806</tspan></text>
<text class="s3" y="102.8"><tspan x="238.7">25.00%</tspan><tspan x="478.7">50.00%</tspan><tspan x="718.7">50.00%</tspan><tspan x="958.7">50.00%</tspan></text>
</g>

<g id="row33" transform="translate(31.3 4858.5)">
<use href="#g4"/>
<use href="#S1"/><use href="#S2" x="240"/><use href="#S3" x="480"/><use href="#S3" x="720"/>
<text class="mn" y="-8"><tspan x="0.5">133</tspan><tspan x="240.5">134</tspan><tspan x="480.5">135</tspan><tspan x="720.5">136</tspan></text>
<text class="tp" y="-20.5"><tspan x="0" class="qn">♩</tspan>=138<tspan x="240" class="qn">♩</tspan>=138<tspan x="480" class="qn">♩</tspan>=138<tspan x="720" class="qn">♩</tspan>=138</text>
<text class="s1" y="76.5"><tspan x="238.7">200</tspan><tspan x="478.7">200</tspan><tspan x="718.7">200</tspan><tspan x="958.7">200</tspan></text>
<text class="s2" y="89.7"><tspan x="238.7">134006</tspan><tspan x="478.7">135206</tspan><tspan x="718.7">136406</tspan><tspan x="958.7">137606</tspan></text>
<text class="s3" y="102.8"><tspan x="238.7">50.00%</tspan><tspan x="478.7">50.00%</tspan><tspan x="718.7">50.00%</tspan><tspan x="958.7">50.00%</tspan></text>
</g>

<g id="row34" transform="translate(31.3 4999.5)">
<use href="#g4"/>
<use href="#T1"/>
<rect x="330" y="12" width="44" height="6" class="R"/><use href="#R" x="240"/><use href="#Y" x="270"/><use href="#B" x="300"/><use href="#O" x="315"/><use href="#R" x="330"/><use href="#B" x="390"/><use href="#R" x="420"/><use href="#B" x="450"/>
<use href="#S3" x="480"/><use href="#S3" x="720"/>
<rect class="ra" x="60" width="4" height="60"/><rect class="ba" x="64" width="896" height="60"/>
<text class="mn" y="-8"><tspan x="0.5">137</tspan><tspan x="240.5">138</tspan><tspan x="480.5">139</tspan><tspan x="720.5">140</tspan></text>
<text class="tp" y="-20.5"><tspan x="0" class="qn">♩</tspan>=138<tspan x="240" class="qn">♩</tspan>=138<tspan x="480" class="qn">♩</tspan>=138<tspan x="720" class="qn">♩</tspan>=138</text>
<text class="s1" y="76.5"><tspan x="238.7">209</tspan><tspan x="478.7">209</tspan><tspan x="718.7">200</tspan><tspan x="958.7">200</tspan></text>
<text class="s2" y="89.7"><tspan x="238.7">139814</tspan><tspan x="478.7">142322</tspan><tspan x="718.7">144722</tspan><tspan x="958.7">147122</tspan></text>
<text class="s3" y="102.8"><tspan x="238.7">40.88%</tspan><tspan x="478.7">28.38%</tspan><tspan x="718.7">15.88%</tspan><tspan x="958.7">3.38%</tspan></text>
</g>

<g id="row35" transform="translate(31.3 5140.5)">
<use href="#g4"/>
<use href="#T1"/><use href="#T2" x="240"/><use href="#T3" x="480"/><use href="#T4" x="720"/>
<rect class="ba" width="544" height="60"/><rect class="ra" x="544" width="11" height="60"/>
<text class="mn" y="-8"><tspan x="0.5">141</tspan><tspan x="240.5">142</tspan><tspan x="480.5">143</tspan><tspan x="720.5">144</tspan></text>
<text class="tp" y="-20.5"><tspan x="0" class="qn">♩</tspan>=138<tspan x="240" class="qn">♩</tspan>=138<tspan x="480" class="qn">♩</tspan>=138<tspan x="720" class="qn">♩</tspan>=138</text>
<text class="s1" y="76.5"><tspan x="238.7">209</tspan><tspan x="478.7">209</tspan><tspan x="718.7">209</tspan><tspan x="958.7">193</tspan></text>
<text class="s2" y="89.7"><tspan x="238.7">149630</tspan><tspan x="478.7">152138</tspan><tspan x="718.7">153992</tspan><tspan x="958.7">155150</tspan></text>
<text class="s3" y="102.8"><tspan x="238.7">0.00%</tspan><tspan x="478.7">0.00%</tspan><tspan x="718.7">0.00%</tspan><tspan x="958.7">0.00%</tspan></text>
</g>

<g id="row36" transform="translate(31.3 5281.5)">
<use href="#g4"/>
<use href="#P1"/><use href="#P2" x="240"/><use href="#P3" x="480"/><use href="#P4" x="720"/>
<text class="mn" y="-8"><tspan x="0.5">145</tspan><tspan x="240.5">146</tspan><tspan x="480.5">147</tspan><tspan x="720.5">148</tspan></text>
<text class="tp" y="-20.5"><tspan x="0" class="qn">♩</tspan>=138<tspan x="240" class="qn">♩</tspan>=138<tspan x="480" class="qn">♩</tspan>=138<tspan x="720" class="qn">♩</tspan>=138</text>
<text class="s1" y="76.5"><tspan x="238.7">108</tspan><tspan x="478.7">175</tspan><tspan x="718.7">105</tspan><tspan x="958.7">134</tspan></text>
<text class="s2" y="89.7"><tspan x="238.7">155798</tspan><tspan x="478.7">156848</tspan><tspan x="718.7">157478</tspan><tspan x="958.7">158282</tspan></text>
<text class="s3" y="102.8"><tspan x="238.7">0.00%</tspan><tspan x="478.7">0.00%</tspan><tspan x="718.7">0.00%</tspan><tspan x="958.7">0.00%</tspan></text>
</g>

<g id="row37" transform="translate(31.3 5422.5)">
<use href="#g4"/>
<use href="#P1"/><use href="#P2" x="240"/><use href="#P3" x="480"/><use href="#P4" x="720"/>
<text class="mn" y="-8"><tspan x="0.5">149</tspan><tspan x="240.5">150</tspan><tspan x="480.5">151</tspan><tspan x="720.5">152</tspan></text>
<text class="tp" y="-20.5"><tspan x="0" class="qn">♩</tspan>=138<tspan x="240" class="qn">♩</tspan>=138<tspan x="480" class="qn">♩</tspan>=138<tspan x="720" class="qn">♩</tspan>=138</text>
<text class="s1" y="76.5"><tspan x="238.7">108</tspan><tspan x="478.7">175</tspan><tspan x="718.7">105</tspan><tspan x="958.7">134</tspan></text>
<text class="s2" y="89.7"><tspan x="238.7">158930</tspan><tspan x="478.7">159980</tspan><tspan x="718.7">160610</tspan><tspan x="958.7">161414</tspan></text>
<text class="s3" y="102.8"><tspan x="238.7">0.00%</tspan><tspan x="478.7">0.00%</tspan><tspan x="718.7">0.00%</tspan><tspan x="958.7">0.00%</tspan></text>
</g>

<g id="row38" transform="translate(31.3 5563.5)">
<use href="#g4"/>
<rect y="27" width="960" height="6" class="Y"/><use href="#Y"/>
<text class="mn" y="-8"><tspan x="0.5">153</tspan><tspan x="240.5">154</tspan><tspan x="480.5">155</tspan><tspan x="720.5">156</tspan></text>
<text class="s1" y="76.5"><tspan x="238.7">73</tspan><tspan x="478.7">48</tspan><tspan x="718.7">48</tspan><tspan x="958.7">48</tspan></text>
<text class="s2" y="89.7"><tspan x="238.7">161852</tspan><tspan x="478.7">162140</tspan><tspan x="718.7">162428</tspan><tspan x="958.7">162716</tspan></text>
<text class="s3" y="102.8"><tspan x="238.7">0.00%</tspan><tspan x="478.7">0.00%</tspan><tspan x="718.7">0.00%</tspan><tspan x="958.7">0.00%</tspan></text>
</g>

<g id="row39" transform="translate(31.3 5704.5)">
<use href="#g4"/>
<rect y="27" width="960" height="6" class="Y"/>
<text class="mn" y="-8"><tspan x="0.5">157</tspan><tspan x="240.5">158</tspan><tspan x="480.5">159</tspan><tspan x="720.5">160</tspan></text>
<text class="s1" y="76.5"><tspan x="238.7">48</tspan><tspan x="478.7">48</tspan><tspan x="718.7">48</tspan><tspan x="958.7">48</tspan></text>
<text class="s2" y="89.7"><tspan x="238.7">163004</tspan><tspan x="478.7">163292</tspan><tspan x="718.7">163580</tspan><tspan x="958.7">163868</tspan></text>
<text class="s3" y="102.8"><tspan x="238.7">0.00%</tspan><tspan x="478.7">0.00%</tspan><tspan x="718.7">0.00%</tspan><tspan x="958.7">0.00%</tspan></text>
</g>

<g id="row40" transform="translate(31.3 5845.5)">
<use href="#g2"/>
<rect y="27" width="480" height="6" class="Y"/>
<text class="mn" y="-8"><tspan x="0.5">161</tspan><tspan x="240.5">162</tspan></text>
<text class="s1" y="76.5"><tspan x="238.7">48</tspan><tspan x="478.7">48</tspan></text>
<text class="s2" y="89.7"><tspan x="238.7">164156</tspan><tspan x="478.7">164444</tspan></text>
<text class="s3" y="102.8"><tspan x="238.7">0.00%</tspan><tspan x="478.7">0.00%</tspan></text>
</g>
</g>
</svg>
